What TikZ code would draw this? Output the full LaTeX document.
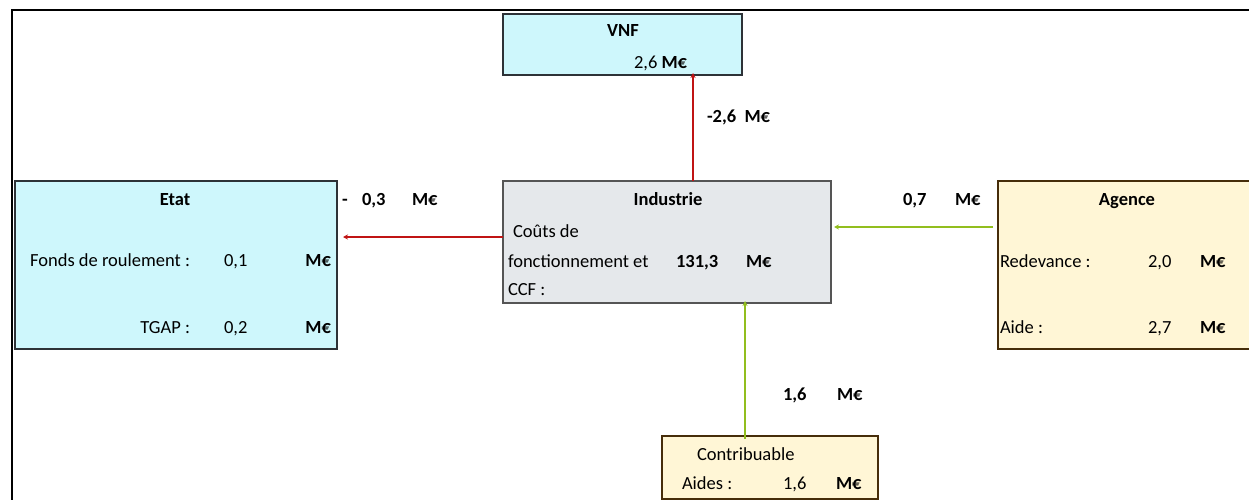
\documentclass[tikz,border=0pt]{standalone}
\usepackage{fontspec}
\setmainfont{Carlito}
\usetikzlibrary{arrows.meta}
\definecolor{cyanfill}{RGB}{206,247,252}
\definecolor{grayfill}{RGB}{229,232,235}
\definecolor{creamfill}{RGB}{255,246,214}
\definecolor{darkline}{RGB}{45,50,55}
\definecolor{grayline}{RGB}{85,85,85}
\definecolor{brownline}{RGB}{70,45,10}
\definecolor{redarr}{RGB}{192,20,20}
\definecolor{greenarr}{RGB}{146,190,30}
\begin{document}
\begin{tikzpicture}[x=1pt,y=-1pt,
  every node/.style={inner sep=0pt, outer sep=0pt, font=\fontsize{18.5}{21}\selectfont},
  box/.style={draw, line width=1.6pt, rectangle},
  lbl/.style={font=\fontsize{18.5}{21}\selectfont\bfseries},
  redflow/.style={draw=redarr, line width=1.2pt, -{Stealth[length=5pt,width=5pt]}},
  greenflow/.style={draw=greenarr, line width=1.4pt, -{Stealth[length=5pt,width=5pt]}}]
\useasboundingbox (0,0) rectangle (1249,500);
\clip (0,0) rectangle (1249,500);
\draw[line width=1.5pt] (12,502) -- (12,10) -- (1252,10);

% boxes
\node[box, draw=darkline, fill=cyanfill, minimum width=239pt, minimum height=61pt] (vnf) at (622.5,44.5) {};
\node[box, draw=grayline, fill=grayfill, minimum width=328pt, minimum height=122pt] (ind) at (667,242) {};
\node[box, draw=darkline, fill=cyanfill, minimum width=322pt, minimum height=168pt] (etat) at (176,265) {};
\node[box, draw=brownline, fill=creamfill, minimum width=262pt, minimum height=168pt] (agence) at (1129,265) {};
\node[box, draw=brownline, fill=creamfill, minimum width=216pt, minimum height=63pt] (contrib) at (770,467.5) {};

\begin{scope}[yshift=-4pt]
% VNF texts
\node[lbl, anchor=mid] (vnft) at (623,30) {VNF};
\node[anchor=mid west] (vnfv) at (634,62) {2,6 \textbf{M€}};

% Industrie texts
\node[lbl, anchor=mid] (indt) at (668,199) {Industrie};
\node[anchor=mid west] (ind1) at (513,231) {Coûts de};
\node[anchor=mid west] (ind2) at (508,261) {fonctionnement et};
\node[lbl, anchor=mid west] (ind3) at (676,261) {131,3};
\node[lbl, anchor=mid west] (ind4) at (746,261) {M€};
\node[anchor=mid west] (ind5) at (508,289) {CCF :};

% Etat texts
\node[lbl, anchor=mid] (etatt) at (175,199) {Etat};
\node[anchor=mid east] (et1) at (190,260) {Fonds de roulement :};
\node[anchor=mid west] (et2) at (224,260) {0,1};
\node[lbl, anchor=mid east] (et3) at (331,260) {M€};
\node[anchor=mid east] (et4) at (190,327) {TGAP :};
\node[anchor=mid west] (et5) at (224,327) {0,2};
\node[lbl, anchor=mid east] (et6) at (331,327) {M€};

% Agence texts
\node[lbl, anchor=mid] (agt) at (1127,199) {Agence};
\node[anchor=mid west] (ag1) at (1000,261) {Redevance :};
\node[anchor=mid west] (ag2) at (1148,261) {2,0};
\node[lbl, anchor=mid west] (ag3) at (1200,261) {M€};
\node[anchor=mid west] (ag4) at (1000,327) {Aide :};
\node[anchor=mid west] (ag5) at (1148,327) {2,7};
\node[lbl, anchor=mid west] (ag6) at (1200,327) {M€};

% Contribuable texts
\node[anchor=mid west] (ct) at (697,454) {Contribuable};
\node[anchor=mid west] (c1) at (682,483) {Aides :};
\node[anchor=mid west] (c2) at (783,483) {1,6};
\node[lbl, anchor=mid west] (c3) at (836,483) {M€};

% flow labels
\node[lbl, anchor=mid west] (l1) at (342,199) {-};
\node[lbl, anchor=mid west] (l2) at (362,199) {0,3};
\node[lbl, anchor=mid west] (l3) at (412,199) {M€};
\node[lbl, anchor=mid west] (l4) at (707,116) {-2,6\ \ M€};
\node[lbl, anchor=mid west] (l5) at (903,199) {0,7};
\node[lbl, anchor=mid west] (l6) at (955,199) {M€};
\node[lbl, anchor=mid west] (l7) at (783,394) {1,6};
\node[lbl, anchor=mid west] (l8) at (837,394) {M€};
\end{scope}

% connectors
\draw[redflow] (ind.north -| 693,0) -- ([yshift=2pt]vnf.south -| 693,0);
\draw[redflow] (ind.west |- 0,237) -- ([xshift=6pt]etat.east |- 0,237);
\draw[greenflow] ([xshift=-5pt]agence.west |- 0,227) -- ([xshift=3pt]ind.east |- 0,227);
\draw[greenflow] ([yshift=-3pt]contrib.north -| 745,0) -- ([yshift=2pt]ind.south -| 745,0);
\end{tikzpicture}
\end{document}
